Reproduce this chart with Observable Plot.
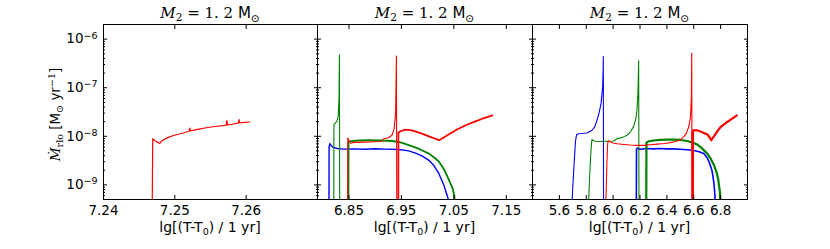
<!DOCTYPE html>
<html><head><meta charset="utf-8">
<script src="https://cdn.jsdelivr.net/npm/d3@7"></script>
<script src="https://cdn.jsdelivr.net/npm/@observablehq/plot@0.6"></script>
<style>
html,body{margin:0;padding:0;background:#fff;}
#chart{position:relative;width:830px;height:249px;overflow:hidden;background:#fff;}
#chart svg{position:absolute;left:0;top:0;}
</style></head><body><div id="chart"></div>
<script>
// ---------- data: [lg(T-T0), Mdot_rlo] ----------
const p1Red = [[7.2468,1e-10],[7.2469,8.9e-9],[7.2472,8.1e-9],[7.2476,7.5e-9],[7.2479,7.1e-9],[7.2481,7.9e-9],[7.2484,8.5e-9],[7.2490,9.4e-9],[7.2498,1.04e-8],[7.2505,1.1e-8],[7.2512,1.17e-8],[7.2520,1.27e-8],[7.2521,1.48e-8],[7.2522,1.29e-8],[7.2532,1.39e-8],[7.2544,1.5e-8],[7.2556,1.59e-8],[7.2567,1.66e-8],[7.2572,1.7e-8],[7.2573,2.1e-8],[7.2574,1.71e-8],[7.2580,1.77e-8],[7.2589,1.86e-8],[7.2590,2.2e-8],[7.2591,1.88e-8],[7.2598,1.93e-8],[7.2605,1.97e-8]];

const p2Blue = [[6.8118,1e-10],[6.8121,6.0e-9],[6.8135,7.05e-9],[6.8160,6.5e-9],[6.8200,5.9e-9],[6.8280,5.6e-9],[6.8400,5.45e-9],[6.8600,5.5e-9],[6.8800,5.4e-9],[6.9000,5.55e-9],[6.9200,5.45e-9],[6.9450,5.35e-9],[6.9640,5.0e-9],[6.9770,4.5e-9],[6.9900,3.9e-9],[7.0025,3.2e-9],[7.0120,2.5e-9],[7.0216,1.7e-9],[7.0312,9.7e-10],[7.0396,5e-10],[7.0410,1e-10]];
const p2Green1 = [[6.8210,1e-10],[6.8213,1.75e-8],[6.8235,1.85e-8],[6.8270,2.05e-8],[6.8295,2.6e-8],[6.8310,6e-8],[6.8318,4.7e-7],[6.8324,1e-10]];
const p2Green2 = [[6.8488,1e-10],[6.8492,7.7e-9],[6.855,8.0e-9],[6.87,8.2e-9],[6.89,8.3e-9],[6.91,8.2e-9],[6.933,8.0e-9],[6.95,7.4e-9],[6.964,6.6e-9],[6.98,5.7e-9],[6.99,5.1e-9],[7.0025,4.4e-9],[7.012,3.7e-9],[7.0216,3.0e-9],[7.03,2.2e-9],[7.037,1.55e-9],[7.043,1.1e-9],[7.047,8.9e-10],[7.051,6e-10],[7.054,1e-10]];
const p2RedA = [[6.8475,1e-10],[6.8478,9.2e-9],[6.8500,8.2e-9],[6.8530,7.2e-9],[6.8600,7.5e-9],[6.8800,7.6e-9],[6.9000,7.7e-9],[6.9120,7.8e-9],[6.9150,8.8e-9],[6.9250,9.3e-9],[6.9320,1.05e-8],[6.9360,1.4e-8],[6.9390,3e-8],[6.9405,4.5e-7],[6.9412,1e-10]];
const p2RedB = [[6.9440,1e-10],[6.9443,1.2e-8],[6.95,1.3e-8],[6.958,1.37e-8],[6.97,1.33e-8],[6.985,1.18e-8],[7.0025,1.0e-8],[7.015,8.9e-9],[7.0216,8.3e-9],[7.03,9.3e-9],[7.0407,1.1e-8],[7.056,1.38e-8],[7.0726,1.69e-8],[7.09,2.0e-8],[7.1045,2.3e-8],[7.115,2.5e-8],[7.1236,2.7e-8]];

const p3Blue1 = [[5.692,3e-10],[5.700,9.5e-10],[5.710,2.8e-9],[5.720,7.9e-9],[5.728,1.08e-8],[5.740,1.13e-8],[5.770,1.14e-8],[5.805,1.17e-8],[5.843,1.33e-8],[5.865,1.6e-8],[5.880,2.14e-8],[5.895,3.0e-8],[5.910,4.7e-8],[5.922,1.05e-7],[5.926,2.5e-7],[5.927,4.4e-7],[5.929,1e-10]];
const p3Blue2 = [[6.172,1e-10],[6.174,5.4e-9],[6.18,5.7e-9],[6.2,5.4e-9],[6.25,5.6e-9],[6.3,5.5e-9],[6.35,5.6e-9],[6.4,5.5e-9],[6.45,5.5e-9],[6.5,5.4e-9],[6.55,5.3e-9],[6.6,5.1e-9],[6.64,4.8e-9],[6.674,4.4e-9],[6.70,3.6e-9],[6.72,2.7e-9],[6.737,1.9e-9],[6.75,1.1e-9],[6.758,6e-10],[6.764,1e-10]];
const p3Green1 = [[5.815,3e-10],[5.825,1.5e-9],[5.835,5e-9],[5.842,8.6e-9],[5.85,8.2e-9],[5.87,7.9e-9],[5.9,7.8e-9],[5.95,7.9e-9],[6.004,8.0e-9],[6.029,8.9e-9],[6.07,9.5e-9],[6.103,1.05e-8],[6.13,1.25e-8],[6.153,1.6e-8],[6.17,2.4e-8],[6.178,3.6e-8],[6.185,8e-8],[6.19,3.6e-7],[6.193,1e-10]];
const p3Green2 = [[6.246,1e-10],[6.248,7.4e-9],[6.26,7.8e-9],[6.3,8.2e-9],[6.35,8.4e-9],[6.4,8.5e-9],[6.45,8.5e-9],[6.5,8.4e-9],[6.551,8.0e-9],[6.6,7.3e-9],[6.625,6.8e-9],[6.66,5.7e-9],[6.7,4.4e-9],[6.725,3.5e-9],[6.749,2.6e-9],[6.77,1.8e-9],[6.782,1.3e-9],[6.795,7e-10],[6.804,1e-10]];
const p3RedA = [[5.945,3e-10],[5.952,2e-9],[5.958,6e-9],[5.962,8.1e-9],[5.975,7.7e-9],[6.0,7.3e-9],[6.03,7.0e-9],[6.08,6.8e-9],[6.128,6.6e-9],[6.18,6.5e-9],[6.227,6.5e-9],[6.28,6.7e-9],[6.327,6.9e-9],[6.38,7.1e-9],[6.426,7.4e-9],[6.47,7.9e-9],[6.5,8.5e-9],[6.525,9.7e-9],[6.545,1.15e-8],[6.562,1.55e-8],[6.575,2.4e-8],[6.582,6e-8],[6.585,5.1e-7],[6.588,1e-10]];
const p3RedB = [[6.590,1e-10],[6.5905,1.2e-8],[6.5912,1e-10],[6.5935,1e-10],[6.594,1.33e-8],[6.625,1.33e-8],[6.65,1.25e-8],[6.68,1.15e-8],[6.7,1.1e-8],[6.718,9.5e-9],[6.73,8.3e-9],[6.75,1.0e-8],[6.774,1.25e-8],[6.8,1.55e-8],[6.849,1.97e-8],[6.88,2.25e-8],[6.905,2.5e-8],[6.92,2.7e-8]];

// ---------- axes ----------
const xDomain1 = [7.24, 7.27], xTicks1 = [7.24, 7.25, 7.26];
const xDomain2 = [6.79, 7.2],  xTicks2 = [6.85, 6.95, 7.05, 7.15];
const xDomain3 = [5.4, 7.0],   xTicks3 = [5.6, 5.8, 6.0, 6.2, 6.4, 6.6, 6.8];
const yDomain = [5e-10, 2e-6];
const yMajor = [1e-9, 1e-8, 1e-7, 1e-6];

// ---------- layout ----------
const W = 830, H = 249;
const TOP = 24, BOTTOM = 199;
const RED = "#ff0000", GREEN = "#008000", BLUE = "#0000ff";
const SANS = "DejaVu Sans", SERIF = "DejaVu Serif";
const yMinor = [];
for (let e = -10; e <= -6; e++) for (let m = 2; m <= 9; m++) {
  const v = m * Math.pow(10, e);
  if (v >= yDomain[0] * 0.999 && v <= yDomain[1] * 1.001) yMinor.push(v);
}

const panels = [
  {left: 103, right: 317, domain: xDomain1, ticks: xTicks1, fmt: ".2f", ylabels: true,
   segs: [[p1Red, RED, 1.2]]},
  {left: 317, right: 532, domain: xDomain2, ticks: xTicks2, fmt: ".2f", ylabels: false,
   segs: [[p2Blue, BLUE, 1.4], [p2Green1, GREEN, 1.1], [p2Green2, GREEN, 1.8], [p2RedA, RED, 1.1], [p2RedB, RED, 1.8]]},
  {left: 532, right: 747, domain: xDomain3, ticks: xTicks3, fmt: ".1f", ylabels: false,
   segs: [[p3Blue1, BLUE, 1.1], [p3Blue2, BLUE, 1.6], [p3Green1, GREEN, 1.1], [p3Green2, GREEN, 2.2], [p3RedA, RED, 1.1], [p3RedB, RED, 2.2]]}
];

const root = document.getElementById("chart");
const NS = "http://www.w3.org/2000/svg";

panels.forEach((cfg, idx) => {
  const marks = [];
  for (const [data, color, w] of cfg.segs) {
    marks.push(Plot.line(data, {x: d => d[0], y: d => d[1], stroke: color, strokeWidth: w, clip: true, strokeLinejoin: "round"}));
  }
  marks.push(Plot.frame({stroke: "black", strokeWidth: 1}));
  for (const anchor of ["left", "right"]) {
    marks.push(Plot.axisY(yMajor, {anchor, tickSize: -4, fill: "none", label: null}));
    marks.push(Plot.axisY(yMinor, {anchor, tickSize: -2, fill: "none", label: null}));
  }
  if (cfg.ylabels) {
    marks.push(Plot.axisY(yMajor, {anchor: "left", tickSize: 0, tickPadding: 6, label: null,
      tickFormat: d => "10^" + Math.round(Math.log10(d))}));
  }
  marks.push(Plot.axisX(cfg.ticks, {anchor: "bottom", tickSize: -4, fill: "none", label: null}));
  marks.push(Plot.axisX(cfg.ticks, {anchor: "top", tickSize: -4, fill: "none", label: null}));
  marks.push(Plot.axisX(cfg.ticks, {anchor: "bottom", tickSize: 0, tickPadding: 6, label: null, tickFormat: d3.format(cfg.fmt)}));

  const svg = Plot.plot({
    width: W, height: H,
    marginLeft: cfg.left, marginRight: W - cfg.right, marginTop: TOP, marginBottom: H - BOTTOM,
    x: {domain: cfg.domain, axis: null},
    y: {type: "log", domain: yDomain, axis: null},
    style: {background: "transparent", fontFamily: SANS, fontSize: "13.5px", color: "black", overflow: "visible"},
    marks
  });
  svg.querySelectorAll('g[aria-label="y-axis tick label"] text').forEach(t => {
    const s = t.textContent;
    if (!s.includes("^")) return;
    const [b, e] = s.split("^");
    t.textContent = b;
    const ts = document.createElementNS(NS, "tspan");
    ts.setAttribute("dy", "-0.5em");
    ts.setAttribute("font-size", "9.5px");
    ts.textContent = e.replace("-", "\u2212");
    t.appendChild(ts);
  });
  root.appendChild(svg);
});

// ---------- overlay texts: titles, x labels, y label ----------
const ov = d3.select(root).append("svg").attr("width", W).attr("height", H)
  .style("font-family", SANS).style("font-size", "13.5px").style("overflow", "visible");

function rich(g, parts, base) {
  for (const p of parts) {
    const ts = g.append("tspan").text(p.t)
      .attr("font-family", p.f || SANS)
      .attr("font-size", p.s || base);
    if (p.it) ts.attr("font-style", "italic");
    if (p.dy) ts.attr("dy", p.dy);
  }
}

panels.forEach(cfg => {
  const cx = (cfg.left + cfg.right) / 2;
  const t = ov.append("text").attr("x", cx).attr("y", 18).attr("text-anchor", "middle").attr("fill", "black");
  rich(t, [
    {t: "M", f: SERIF, it: true},
    {t: "2", f: SERIF, s: 10.5, dy: 3},
    {t: " = 1. 2 ", f: SERIF, dy: -3},
    {t: "M", f: SANS},
    {t: "\u2299", f: SANS, s: 10.5, dy: 3.5}
  ], 15);
  const xl = ov.append("text").attr("x", cx).attr("y", 232).attr("text-anchor", "middle").attr("fill", "black");
  rich(xl, [
    {t: "lg[(T-T"},
    {t: "0", s: 9.5, dy: 3},
    {t: ") / 1 yr]", dy: -3}
  ], 14);
});

const yl = ov.append("text").attr("transform", `translate(59.5,${(TOP + BOTTOM) / 2 + 3}) rotate(-90)`)
  .attr("text-anchor", "middle").attr("fill", "black");
rich(yl, [
  {t: "\u1E40", f: SERIF, it: true},
  {t: "rlo", f: SERIF, s: 9.5, dy: 3},
  {t: " [M", dy: -3},
  {t: "\u2299", s: 9.5, dy: 3},
  {t: "  yr", dy: -3},
  {t: "\u22121", f: SERIF, s: 9.5, dy: -5},
  {t: "]", dy: 5}
], 13.5);
</script></body></html>
